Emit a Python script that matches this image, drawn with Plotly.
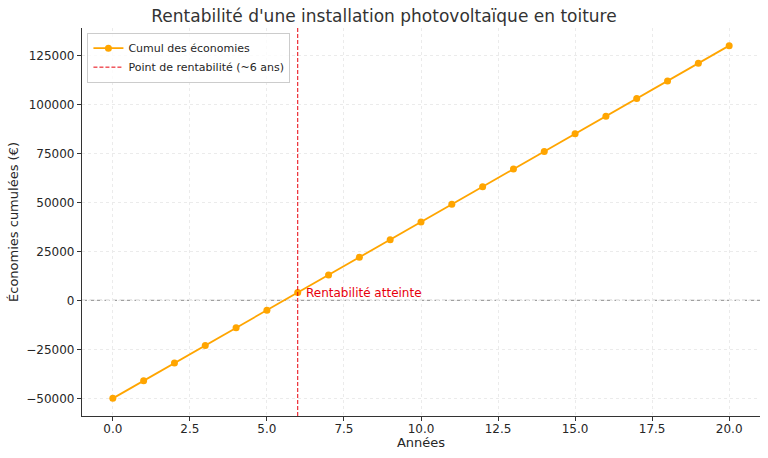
import plotly.graph_objects as go

years = list(range(0, 21))
cumul = [-50000, -41000, -32000, -23000, -14000, -5000, 4000, 13000, 22000, 31000,
         40000, 49000, 58000, 67000, 76000, 85000, 94000, 103000, 112000, 121000, 130000]
breakeven_year = 6
title = "Rentabilité d'une installation photovoltaïque en toiture"

FONT = "DejaVu Sans"
fig = go.Figure()
fig.add_trace(go.Scatter(
    x=years, y=cumul, mode="lines+markers", name="Cumul des économies",
    line=dict(color="#FFA500", width=1.8), marker=dict(color="#FFA500", size=7),
))
fig.add_trace(go.Scatter(
    x=[breakeven_year, breakeven_year], y=[-59000, 139000], mode="lines",
    name="Point de rentabilité (~6 ans)",
    line=dict(color="#e8000b", width=1, dash="4px,2px"),
))
fig.add_shape(type="line", xref="paper", x0=0, x1=1, yref="y", y0=0, y1=0,
              line=dict(color="#a0a0a0", width=1.4, dash="5px,2.5px"), layer="below")
fig.add_annotation(x=breakeven_year + 0.2, y=4000, text="Rentabilité atteinte",
                   showarrow=False, xanchor="left", yanchor="middle",
                   font=dict(color="#e8000b", size=12, family=FONT))

fig.update_layout(
    width=768, height=458,
    margin=dict(l=82, r=8, t=28, b=42),
    paper_bgcolor="white", plot_bgcolor="white",
    font=dict(family=FONT, size=12, color="#262626"),
    title=dict(text=title, x=0.5, xanchor="center", y=0.965, yanchor="middle",
               font=dict(size=17, color="#333333")),
    showlegend=True,
    legend=dict(x=0.008, y=0.988, xanchor="left", yanchor="top",
                bgcolor="rgba(255,255,255,0.8)", bordercolor="#cccccc", borderwidth=1,
                font=dict(size=11), tracegroupgap=0, itemwidth=30),
    xaxis=dict(range=[-1, 21], tickvals=[0, 2.5, 5, 7.5, 10, 12.5, 15, 17.5, 20],
               ticktext=["0.0", "2.5", "5.0", "7.5", "10.0", "12.5", "15.0", "17.5", "20.0"],
               showgrid=True, gridcolor="#ebebeb", griddash="dot", zeroline=False,
               showline=True, linecolor="#333333", linewidth=1.2, automargin=False,
               ticks="outside", ticklen=4, tickcolor="#333333", ticklabelstandoff=-3,
               title=dict(text="Années", standoff=2, font=dict(size=13))),
    yaxis=dict(range=[-59000, 139000],
               tickvals=[-50000, -25000, 0, 25000, 50000, 75000, 100000, 125000],
               ticktext=["\u221250000", "\u221225000", "0", "25000", "50000", "75000", "100000", "125000"],
               showgrid=True, gridcolor="#ebebeb", griddash="dot", zeroline=False,
               showline=True, linecolor="#333333", linewidth=1.2, automargin=False,
               ticks="outside", ticklen=4, tickcolor="#333333",
               title=dict(text="Économies cumulées (€)", standoff=4, font=dict(size=13))),
)
fig.write_html("out.html")
